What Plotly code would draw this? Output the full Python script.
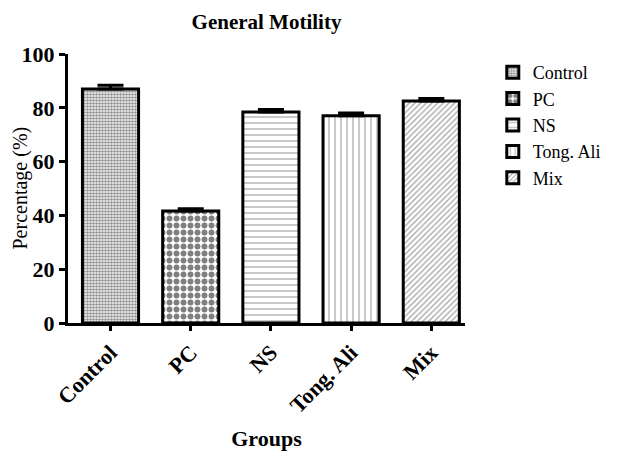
import plotly.graph_objects as go

groups = ["Control", "PC", "NS", "Tong. Ali", "Mix"]
values = [87.0, 41.6, 78.4, 77.0, 82.5]
errors = [1.4, 0.9, 1.0, 1.1, 1.0]
shapes = [".", ".", "-", "|", "/"]
pat_size = [3, 7, 6, 6, 4]
pat_solid = [0.6, 0.55, 0.3, 0.3, 0.35]
fg = ["#222222", "#000000", "#888888", "#888888", "#555555"]

FONT = "Liberation Serif"

fig = go.Figure()
for i, g in enumerate(groups):
    fig.add_trace(go.Bar(
        x=[g], y=[values[i]], name=g, width=0.7,
        marker=dict(color="white", line=dict(color="black", width=3),
                    pattern=dict(shape=shapes[i], size=pat_size[i], solidity=pat_solid[i],
                                 fgcolor=fg[i], bgcolor="white")),
        error_y=dict(type="data", array=[errors[i]], arrayminus=[0], symmetric=False,
                     color="black", thickness=3, width=13),
    ))

fig.update_layout(
    width=629, height=451,
    margin=dict(l=68, r=164, t=54, b=128),
    plot_bgcolor="white", paper_bgcolor="white",
    barmode="overlay",
    font=dict(family=FONT, color="black"),
    title=dict(text="<b>General Motility</b>", x=(68+465)/2/629, xanchor="center",
               y=1-22/451, yanchor="middle", font=dict(size=21, family=FONT)),
    legend=dict(x=1.07, y=1.0, xanchor="left", yanchor="top",
                font=dict(size=18, family=FONT), tracegroupgap=0, itemwidth=30,
                bgcolor="rgba(0,0,0,0)"),
    annotations=[dict(text="Percentage (%)", xref="paper", yref="paper",
                      x=(20-68)/397, y=0.5, xanchor="center", yanchor="middle",
                      textangle=-90, showarrow=False,
                      font=dict(size=20, family=FONT, color="black"))],
)
fig.update_xaxes(
    range=[-0.53, 4.42], showline=True, linecolor="black", linewidth=3,
    ticks="outside", ticklen=5, tickwidth=3, tickcolor="black",
    tickangle=-45, tickfont=dict(size=22, family=FONT),
    tickprefix="<b>", ticksuffix="</b>", automargin=False,
    title=dict(text="<b>Groups</b>", font=dict(size=22, family=FONT), standoff=18),
    showgrid=False, zeroline=False,
)
fig.update_yaxes(
    range=[0, 100], dtick=20, showline=True, linecolor="black", linewidth=3,
    ticks="outside", ticklen=6, tickwidth=3, tickcolor="black",
    tickfont=dict(size=22, family=FONT), tickprefix="<b>", ticksuffix="</b>",
    automargin=False, showgrid=False, zeroline=False,
)
fig.write_html("out.html")
